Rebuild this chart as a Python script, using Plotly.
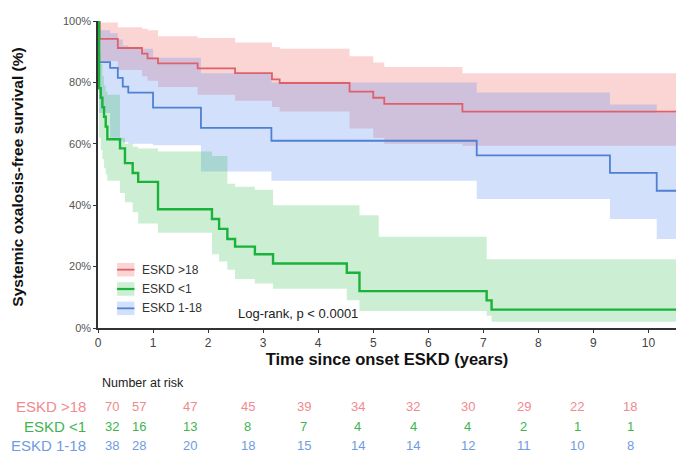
import plotly.graph_objects as go

# ---------------- data (survival in %) ----------------
red_t = [0, 0.03, 0.36, 0.80, 0.90, 1.09, 1.81, 2.49, 3.16, 3.30, 4.57, 5.00, 5.20, 6.62, 10.5]
red_s = [100, 94.2, 91.2, 89.4, 87.8, 86.2, 84.6, 83.0, 81.0, 79.8, 77.0, 75.0, 73.0, 70.5, 70.5]
red_lo = [100, 87, 84, 82, 80.5, 78.5, 76, 74, 72, 70.5, 65, 62, 60, 59.4, 59.4]
red_hi = [100, 99.5, 98, 97.5, 97, 95, 94.5, 93, 91.5, 91, 88.5, 86.5, 85, 83, 83]

blue_t = [0, 0.02, 0.22, 0.36, 0.45, 0.55, 1.00, 1.87, 3.15, 6.88, 9.30, 10.15, 10.5]
blue_s = [100, 86.6, 84.7, 81.5, 78.6, 76.7, 71.8, 65.2, 61.0, 56.2, 50.5, 44.7, 44.7]
blue_lo = [100, 70, 62, 61, 60.5, 60, 59.5, 51, 48, 42, 35.5, 29, 29]
blue_hi = [100, 97, 96, 94, 92, 91, 88, 83, 80, 76.7, 72.8, 70, 70]

green_t = [0, 0.02, 0.05, 0.08, 0.11, 0.14, 0.17, 0.40, 0.49, 0.63, 0.73, 1.09, 2.07, 2.20,
           2.35, 2.49, 2.85, 3.18, 4.52, 4.75, 5.10, 7.06, 7.15, 10.5]
green_s = [100, 78.1, 75.0, 71.9, 68.8, 65.6, 61.5, 58.5, 53.7, 50.5, 47.6, 38.7, 35.5, 32.3,
           29.0, 26.5, 24.0, 21.0, 18.0, 12.0, 12.0, 9.0, 6.0, 6.0]
green_lo = [100, 62, 58, 55, 52, 50, 48, 44, 41, 37.7, 34, 31, 24, 21.7,
            19, 16, 14.5, 12.8, 9, 5.5, 5.5, 4, 2, 2]
green_hi = [100, 90, 86, 82, 79, 77, 76, 62, 60, 59, 58.5, 57.5, 56, 56,
            47, 46, 45, 40, 40, 36.7, 29.7, 22.4, 22.4, 22.4]

groups = ["ESKD >18", "ESKD <1", "ESKD 1-18"]
risk_times = [0.25, 0.74, 1.67, 2.72, 3.74, 4.72, 5.73, 6.72, 7.73, 8.71, 9.67]
risk_red = [70, 57, 47, 45, 39, 34, 32, 30, 29, 22, 18]
risk_green = [32, 16, 13, 8, 7, 4, 4, 4, 2, 1, 1]
risk_blue = [38, 28, 20, 18, 15, 14, 14, 12, 11, 10, 8]
x_ticks = list(range(0, 11))
y_ticks = [0, 20, 40, 60, 80, 100]
y_ticktext = [f"{v}%" for v in y_ticks]

# ---------------- styles ----------------
RED = "#E0606A"
GREEN = "#19B23B"
BLUE = "#4F80D2"
RED_F = "rgba(240,100,100,0.28)"
GREEN_F = "rgba(40,185,70,0.24)"
BLUE_F = "rgba(90,140,240,0.27)"
FONT = "Liberation Sans, Arial, sans-serif"

fig = go.Figure()

def band(t, lo, hi, fill):
    fig.add_trace(go.Scatter(x=t, y=lo, mode="lines", line=dict(width=0, shape="hv"),
                             hoverinfo="skip", showlegend=False))
    fig.add_trace(go.Scatter(x=t, y=hi, mode="lines", line=dict(width=0, shape="hv"),
                             fill="tonexty", fillcolor=fill, hoverinfo="skip", showlegend=False))

band(red_t, red_lo, red_hi, RED_F)
band(blue_t, blue_lo, blue_hi, BLUE_F)
band(green_t, green_lo, green_hi, GREEN_F)

fig.add_trace(go.Scatter(x=red_t, y=red_s, mode="lines", line=dict(color=RED, width=1.8, shape="hv"),
                         name=groups[0], showlegend=False))
fig.add_trace(go.Scatter(x=blue_t, y=blue_s, mode="lines", line=dict(color=BLUE, width=1.8, shape="hv"),
                         name=groups[2], showlegend=False))
fig.add_trace(go.Scatter(x=green_t, y=green_s, mode="lines", line=dict(color=GREEN, width=2.4, shape="hv"),
                         name=groups[1], showlegend=False))

# ---------------- manual legend ----------------
leg_cols = [(RED, RED_F), (GREEN, GREEN_F), (BLUE, BLUE_F)]
leg_y = [0.190, 0.127, 0.064]
for (lc, fc), yy, name in zip(leg_cols, leg_y, groups):
    fig.add_shape(type="rect", xref="paper", yref="paper", x0=0.033, x1=0.063,
                  y0=yy - 0.022, y1=yy + 0.022, fillcolor=fc, line=dict(width=0), layer="above")
    fig.add_shape(type="line", xref="paper", yref="paper", x0=0.033, x1=0.063, y0=yy, y1=yy,
                  line=dict(color=lc, width=2.2 if lc == GREEN else 1.8), layer="above")
    fig.add_annotation(x=0.072, y=yy, xref="paper", yref="paper", text=name, showarrow=False,
                       xanchor="left", yanchor="middle", font=dict(family=FONT, size=12, color="#333333"))

fig.add_annotation(x=0.238, y=0.048, xref="paper", yref="paper", text="Log-rank, p < 0.0001",
                   showarrow=False, xanchor="left", yanchor="middle",
                   font=dict(family=FONT, size=13, color="#222222"))

# y axis title
fig.add_annotation(x=-0.140, y=0.49, xref="paper", yref="paper",
                   text="<b>Systemic oxalosis-free survival (%)</b>", textangle=-90, showarrow=False,
                   xanchor="center", yanchor="middle", font=dict(family=FONT, size=15.5, color="#111111"))

# ---------------- risk table ----------------
fig.add_annotation(x=0.003, y=-0.178, xref="paper", yref="paper", text="Number at risk",
                   showarrow=False, xanchor="left", yanchor="middle",
                   font=dict(family=FONT, size=12.5, color="#222222"))
row_y = [-0.256, -0.320, -0.384]
row_cols = ["#F08A8E", "#3DB54E", "#6F9BE3"]
for name, vals, yy, col in zip(groups, [risk_red, risk_green, risk_blue], row_y, row_cols):
    fig.add_annotation(x=-0.017, y=yy, xref="paper", yref="paper", text=name, showarrow=False,
                       xanchor="right", yanchor="middle", font=dict(family=FONT, size=15, color=col))
    for tx, v in zip(risk_times, vals):
        fig.add_annotation(x=tx, y=yy, xref="x", yref="paper", text=str(v), showarrow=False,
                           xanchor="center", yanchor="middle", font=dict(family=FONT, size=13, color=col))

fig.update_layout(
    width=677, height=452,
    margin=dict(l=90, r=9, t=7, b=132),
    plot_bgcolor="white", paper_bgcolor="white",
    font=dict(family=FONT, size=12, color="#444444"),
    showlegend=False,
    xaxis=dict(range=[0, 10.5], tickvals=x_ticks, ticks="outside", ticklen=3, tickcolor="#333333",
               showline=True, linecolor="#333333", linewidth=1.5, showgrid=False, zeroline=False,
               tickfont=dict(family=FONT, size=12, color="#444444"),
               title=dict(text="<b>Time since onset ESKD (years)</b>", standoff=0,
                          font=dict(family=FONT, size=16.5, color="#111111"))),
    yaxis=dict(range=[0, 100], tickvals=y_ticks, ticktext=y_ticktext, ticks="outside", ticklen=3,
               tickcolor="#333333", showline=True, linecolor="#333333", linewidth=1.5,
               showgrid=False, zeroline=False,
               tickfont=dict(family=FONT, size=11, color="#555555")),
)

fig.write_html("out.html")
